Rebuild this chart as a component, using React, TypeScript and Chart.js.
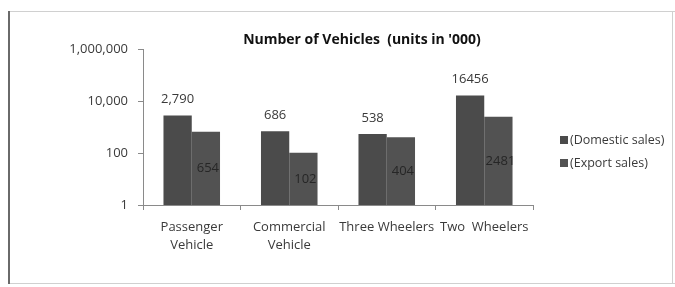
import React, { useEffect, useRef } from "react";
import { Chart, registerables } from "chart.js";

Chart.register(...registerables);

const categories: (string | string[])[] = [
  ["Passenger", "Vehicle"],
  ["Commercial", "Vehicle"],
  "Three Wheelers",
  "Two  Wheelers",
];
const domesticSales = [2790, 686, 538, 16456];
const exportSales = [654, 102, 404, 2481];
const domesticLabels = ["2,790", "686", "538", "16456"];
const exportLabels = ["654", "102", "404", "2481"];
const yTicks = [1, 100, 10000, 1000000];
const seriesNames = ["(Domestic sales)", "(Export sales)"];
const titleText = "Number of Vehicles  (units in '000)";

const FONT = "'Open Sans', 'Noto Sans', sans-serif";

export default function App() {
  const ref = useRef<HTMLCanvasElement | null>(null);

  useEffect(() => {
    document.body.style.margin = "0";
    const canvas = ref.current;
    if (!canvas) return;

    const framePlugin = {
      id: "frame",
      beforeDraw(chart: any) {
        const ctx = chart.ctx;
        ctx.save();
        ctx.fillStyle = "#ffffff";
        ctx.fillRect(0, 0, chart.width, chart.height);
        ctx.strokeStyle = "#d0d0d0";
        ctx.lineWidth = 1;
        ctx.beginPath();
        ctx.moveTo(9, 11.5);
        ctx.lineTo(chart.width, 11.5);
        ctx.moveTo(9, 283.5);
        ctx.lineTo(chart.width, 283.5);
        ctx.moveTo(672.5, 11);
        ctx.lineTo(672.5, 284);
        ctx.stroke();
        ctx.strokeStyle = "#6a6a6a";
        ctx.lineWidth = 2;
        ctx.beginPath();
        ctx.moveTo(9, 11);
        ctx.lineTo(9, 284);
        ctx.stroke();
        ctx.restore();
      },
    };

    const labelPlugin = {
      id: "extras",
      afterDatasetsDraw(chart: any) {
        const ctx = chart.ctx;
        ctx.save();
        ctx.font = `13px ${FONT}`;
        ctx.textAlign = "center";
        ctx.textBaseline = "middle";
        const m0 = chart.getDatasetMeta(0);
        m0.data.forEach((bar: any, i: number) => {
          ctx.fillStyle = "#3a3a3a";
          ctx.fillText(domesticLabels[i], bar.x, bar.y - 16);
        });
        const m1 = chart.getDatasetMeta(1);
        m1.data.forEach((bar: any, i: number) => {
          ctx.fillStyle = "#262626";
          ctx.fillText(exportLabels[i], bar.x + 2, (bar.y + bar.base) / 2);
        });

        // title
        ctx.font = `bold 14px ${FONT}`;
        ctx.fillStyle = "#111111";
        ctx.fillText(titleText, 362, 40);

        // legend
        ctx.font = `12.5px ${FONT}`;
        ctx.textAlign = "left";
        const colors = [chart.data.datasets[0].backgroundColor, chart.data.datasets[1].backgroundColor];
        seriesNames.forEach((name, i) => {
          const y = 140 + i * 23;
          ctx.fillStyle = colors[i];
          ctx.fillRect(560, y - 4, 8, 8);
          ctx.fillStyle = "#3a3a3a";
          ctx.fillText(name, 570, y);
        });
        ctx.restore();
      },
    };

    const chart = new Chart(canvas, {
      type: "bar",
      data: {
        labels: categories,
        datasets: [
          {
            label: seriesNames[0],
            data: domesticSales,
            backgroundColor: "#4b4b4b",
            borderWidth: 0,
            categoryPercentage: 0.58,
            barPercentage: 1.0,
          },
          {
            label: seriesNames[1],
            data: exportSales,
            backgroundColor: "#525252",
            borderWidth: 0,
            categoryPercentage: 0.58,
            barPercentage: 1.0,
          },
        ],
      },
      options: {
        responsive: false,
        animation: false,
        layout: { padding: { top: 49, right: 142, left: 0, bottom: 0 } },
        plugins: {
          legend: { display: false },
          title: { display: false },
          tooltip: { enabled: false },
        },
        scales: {
          x: {
            grid: {
              display: true,
              drawOnChartArea: false,
              drawTicks: true,
              tickLength: 5,
              color: "#8a8a8a",
              offset: true,
            },
            border: { display: true, color: "#8a8a8a", width: 1 },
            ticks: {
              font: { family: FONT, size: 13, lineHeight: 1.35 },
              color: "#3a3a3a",
              padding: 9,
              maxRotation: 0,
              autoSkip: false,
            },
            afterFit(scale: any) {
              scale.height = 82;
            },
          },
          y: {
            type: "logarithmic",
            min: 1,
            max: 1000000,
            afterBuildTicks(scale: any) {
              scale.ticks = yTicks.map((v) => ({ value: v }));
            },
            grid: {
              display: true,
              drawOnChartArea: false,
              drawTicks: true,
              tickLength: 5,
              color: "#8a8a8a",
            },
            border: { display: true, color: "#8a8a8a", width: 1 },
            ticks: {
              font: { family: FONT, size: 13 },
              color: "#3a3a3a",
              padding: 10,
              callback: (v: any) => Number(v).toLocaleString("en-US"),
            },
            afterFit(scale: any) {
              scale.width = 143;
            },
          },
        },
      },
      plugins: [framePlugin, labelPlugin],
    });

    return () => chart.destroy();
  }, []);

  return (
    <div style={{ width: 675, height: 287 }}>
      <canvas ref={ref} width={675} height={287} style={{ display: "block" }} />
    </div>
  );
}
